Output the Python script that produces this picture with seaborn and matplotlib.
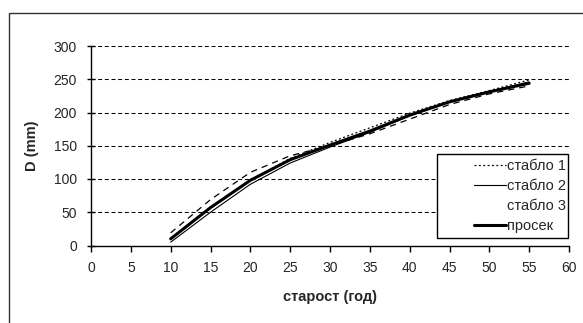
import matplotlib
matplotlib.use("Agg")
import matplotlib.pyplot as plt
from matplotlib.lines import Line2D
from matplotlib.patches import Rectangle
import seaborn as sns
import pandas as pd

age = [10, 15, 20, 25, 30, 35, 40, 45, 50, 55]
stablo1 = [10, 56, 98, 131, 155, 177, 199, 218, 233, 249]
stablo2 = [5, 50, 92, 124, 148, 170, 195, 216, 232, 246]
stablo3 = [19, 69, 110, 135, 150, 168, 190, 212, 228, 240]
prosek = [10, 57, 98, 129, 151, 172, 196, 216, 231, 244]
labels = ["стабло 1", "стабло 2", "стабло 3", "просек"]
x_ticks = [0, 5, 10, 15, 20, 25, 30, 35, 40, 45, 50, 55, 60]
y_ticks = [0, 50, 100, 150, 200, 250, 300]

sns.set_theme(style="white")
plt.rcParams['font.family'] = ['Liberation Sans', 'DejaVu Sans']

W, H = 583, 323
fig = plt.figure(figsize=(W / 100, H / 100), dpi=100)
fig.patch.set_facecolor("white")
ax = fig.add_axes([91 / W, 1 - 245.5 / H, (569 - 91) / W, (245.5 - 46) / H])
ax.set_facecolor("white")

df = pd.DataFrame({"age": age, labels[0]: stablo1, labels[1]: stablo2,
                   labels[2]: stablo3, labels[3]: prosek})

styles = {
    labels[0]: dict(lw=0.9, ls=(0, (1.5, 2.0))),
    labels[1]: dict(lw=0.8, ls="-"),
    labels[2]: dict(lw=0.9, ls=(0, (5, 4))),
    labels[3]: dict(lw=2.2, ls="-"),
}
for lab in labels:
    sns.lineplot(data=df, x="age", y=lab, ax=ax, color="black",
                 linewidth=styles[lab]["lw"], linestyle=styles[lab]["ls"],
                 legend=False)

ax.set_xlim(0, 60)
ax.set_ylim(0, 300)
ax.set_xticks(x_ticks)
ax.set_yticks(y_ticks)
for yv in y_ticks[1:]:
    ax.axhline(yv, color="black", lw=0.75, ls=(0, (3.8, 2.6)), zorder=0)

for s in ["top", "right"]:
    ax.spines[s].set_visible(False)
for s in ["left", "bottom"]:
    ax.spines[s].set_color("black")
    ax.spines[s].set_linewidth(1.0)

ax.tick_params(axis="y", direction="inout", length=6, width=1, color="black",
               labelsize=10, pad=7, left=True)
ax.tick_params(axis="x", direction="out", length=4, width=1, color="black",
               labelsize=10, pad=7, bottom=True)

ax.set_xlabel("старост (год)", fontsize=10.5, fontweight="bold")
ax.set_ylabel("D (mm)", fontsize=10.5, fontweight="bold")
ax.xaxis.set_label_coords(0.5, (245.5 - 297) / 199.5)
ax.xaxis.label.set_va("center")
ax.yaxis.set_label_coords((32 - 91) / 478, 0.5)
ax.yaxis.label.set_va("center")

handles = [
    Line2D([], [], color="black", lw=0.9, ls=(0, (1.5, 2.0))),
    Line2D([], [], color="black", lw=0.8, ls="-"),
    Line2D([], [], color="black", lw=0.9, ls=(0, (5, 4)), alpha=0.0),
    Line2D([], [], color="black", lw=2.2, ls="-"),
]
leg = fig.legend(handles, labels, loc="center right",
                 bbox_to_anchor=(566 / W, 1 - 196 / H),
                 bbox_transform=fig.transFigure,
                 frameon=False, fontsize=10.5,
                 handlelength=2.2, handletextpad=0.05, labelspacing=0.4,
                 borderpad=0.0, borderaxespad=0.0)
fig.patches.append(Rectangle((437 / W, 1 - 238 / H), (568 - 437) / W,
                             (238 - 154) / H, transform=fig.transFigure,
                             facecolor="white", edgecolor="black", lw=1.0,
                             zorder=3))
leg.set_zorder(4)

fig.patches.append(Rectangle((9 / W, -0.2), 2.0, 1.2 - 13 / H,
                             transform=fig.transFigure, fill=False,
                             edgecolor="#333333", lw=1.0))

fig.savefig("out.png", dpi=100, facecolor="white")
